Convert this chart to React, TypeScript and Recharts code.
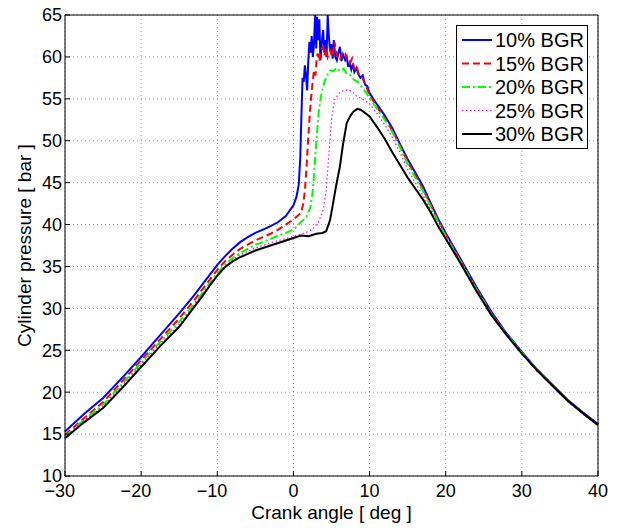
import React from "react";
import { LineChart, Line, XAxis, YAxis, CartesianGrid, Legend, Label } from "recharts";

const xTicks = [-30, -20, -10, 0, 10, 20, 30, 40];
const yTicks = [10, 15, 20, 25, 30, 35, 40, 45, 50, 55, 60, 65];

// [crank angle (deg), pressure (bar)]
const bgr10: [number, number][] = [
  [-30, 15.3], [-27.5, 17.4], [-25, 19.3], [-22.5, 21.7], [-20, 24.2], [-17.5, 26.8],
  [-15, 29.4], [-13, 31.6], [-12, 32.8], [-11, 34.0], [-10, 35.2], [-9, 36.2], [-8, 37.1],
  [-7, 37.9], [-6, 38.5], [-5, 39.0], [-4, 39.4], [-3, 39.8], [-2, 40.3], [-1, 41.0],
  [0, 42.3], [0.4, 43.3], [0.7, 44.8], [0.9, 48], [1.05, 53], [1.2, 57.5],
  [1.35, 57.0], [1.5, 59.0], [1.65, 57.8], [1.8, 56.0], [1.95, 59.5], [2.1, 61.8],
  [2.25, 60.5], [2.4, 62.5], [2.55, 60.0], [2.7, 61.5], [2.85, 65], [3.0, 61.0],
  [3.1, 64.8], [3.25, 62.0], [3.4, 64.5], [3.55, 59.6], [3.7, 61.5], [3.9, 63.2],
  [4.05, 60.5], [4.2, 62.0], [4.35, 60.0], [4.5, 65], [4.65, 62.5], [4.8, 60.8],
  [5.0, 61.5], [5.15, 59.8], [5.3, 62.0], [5.5, 60.0], [5.7, 59.6], [5.9, 60.5],
  [6.1, 61.2], [6.3, 59.5], [6.5, 60.3], [6.8, 59.6], [7.0, 60.0], [7.2, 58.8],
  [7.4, 59.3], [7.6, 58.5], [7.8, 59.1], [8.0, 58.2], [8.3, 58.7], [8.5, 58.0],
  [8.8, 57.5], [9.1, 57.8], [9.4, 56.7], [9.7, 56.5], [10, 55.7], [11, 54.3],
  [12, 53.0], [13, 51.5], [14, 49.6], [15, 47.8], [16, 46.2], [17, 44.6], [18, 42.6],
  [19, 40.7], [20, 39.0], [22, 35.8], [24, 32.6], [26, 29.6], [28, 27.0], [30, 24.8],
  [32, 22.7], [34, 20.9], [36, 19.1], [38, 17.6], [40, 16.2],
];

const bgr15: [number, number][] = [
  [-30, 14.9], [-27.5, 16.9], [-25, 18.8], [-22.5, 21.3], [-20, 23.8], [-17.5, 26.3],
  [-15, 28.8], [-13, 31.0], [-12, 32.2], [-11, 33.4], [-10, 34.6], [-9, 35.6], [-8, 36.4],
  [-7, 37.1], [-6, 37.6], [-5, 38.1], [-4, 38.5], [-3, 38.9], [-2, 39.4], [-1, 40.0],
  [0, 40.6], [0.5, 41.0], [1.0, 41.4], [1.3, 42.5], [1.5, 44.0], [1.7, 46.5],
  [1.9, 49.7], [2.1, 52.5], [2.3, 54.9], [2.5, 56.8], [2.7, 58.4], [2.9, 57.8],
  [3.05, 59.8], [3.2, 60.4], [3.4, 59.5], [3.6, 60.8], [3.9, 61.2], [4.1, 60.2],
  [4.3, 61.0], [4.5, 60.0], [4.8, 60.8], [5.1, 60.0], [5.4, 61.8], [5.7, 60.2],
  [6.1, 59.6], [6.4, 60.6], [6.8, 60.4], [7.1, 59.4], [7.4, 59.2], [7.7, 59.8],
  [8.0, 58.6], [8.3, 58.9], [8.6, 57.9], [9.0, 57.6], [9.3, 57.0], [9.6, 56.4],
  [10, 55.4], [11, 54.0], [12, 52.7], [13, 51.2], [14, 49.4], [15, 47.5], [16, 45.9],
  [17, 44.3], [18, 42.4], [19, 40.5], [20, 38.8], [22, 35.6], [24, 32.4], [26, 29.4],
  [28, 26.9], [30, 24.7], [32, 22.6], [34, 20.8], [36, 19.0], [38, 17.5], [40, 16.1],
];

const bgr20: [number, number][] = [
  [-30, 14.7], [-27.5, 16.7], [-25, 18.5], [-22.5, 21.0], [-20, 23.5], [-17.5, 26.0],
  [-15, 28.4], [-13, 30.6], [-12, 31.8], [-11, 33.0], [-10, 34.2], [-9, 35.2], [-8, 36.0],
  [-7, 36.6], [-6, 37.1], [-5, 37.6], [-4, 37.9], [-3, 38.3], [-2, 38.7], [-1, 39.0],
  [0, 39.4], [1, 40.3], [1.7, 40.9], [2.2, 42.0], [2.5, 43.7], [2.7, 45.8],
  [2.9, 48.5], [3.1, 51.0], [3.3, 53.3], [3.6, 55.2], [3.9, 56.5], [4.3, 57.6],
  [4.8, 58.4], [5.2, 58.3], [5.7, 58.7], [6.1, 58.3], [6.6, 58.6], [7.0, 58.0],
  [7.5, 57.8], [7.9, 57.3], [8.5, 57.0], [9.0, 56.4], [9.5, 55.8], [10, 55.1],
  [11, 53.8], [12, 52.5], [13, 51.0], [14, 49.2], [15, 47.2], [16, 45.6], [17, 44.0],
  [18, 42.2], [19, 40.3], [20, 38.6], [22, 35.5], [24, 32.3], [26, 29.3], [28, 26.9],
  [30, 24.7], [32, 22.6], [34, 20.8], [36, 19.0], [38, 17.5], [40, 16.1],
];

const bgr25: [number, number][] = [
  [-30, 14.6], [-27.5, 16.6], [-25, 18.3], [-22.5, 20.8], [-20, 23.3], [-17.5, 25.8],
  [-15, 28.1], [-13, 30.4], [-12, 31.6], [-11, 32.8], [-10, 34.0], [-9, 35.0], [-8, 35.8],
  [-7, 36.4], [-6, 36.8], [-5, 37.2], [-4, 37.5], [-3, 37.8], [-2, 38.1], [-1, 38.3],
  [0, 38.6], [1.5, 39.0], [2.5, 39.4], [3.3, 40.3], [3.9, 41.7], [4.3, 44.0],
  [4.6, 47.7], [5.0, 52.5], [5.4, 54.9], [6.1, 55.8], [6.6, 56.0], [7.2, 56.1],
  [7.8, 55.8], [8.3, 55.3], [9.0, 55.0], [10, 54.4], [11, 53.2], [12, 51.9], [13, 50.4],
  [14, 48.6], [15, 46.6], [16, 45.0], [17, 43.5], [18, 41.8], [19, 39.9], [20, 38.3],
  [22, 35.3], [24, 32.2], [26, 29.2], [28, 26.8], [30, 24.6], [32, 22.5], [34, 20.7],
  [36, 18.9], [38, 17.4], [40, 16.0],
];

const bgr30: [number, number][] = [
  [-30, 14.5], [-27.5, 16.4], [-25, 18.1], [-22.5, 20.5], [-20, 23.0], [-17.5, 25.5],
  [-15, 27.8], [-13, 30.2], [-12, 31.4], [-11, 32.7], [-10, 33.9], [-9, 34.9], [-8, 35.6],
  [-7, 36.1], [-6, 36.5], [-5, 36.9], [-4, 37.2], [-3, 37.5], [-2, 37.8], [-1, 38.1],
  [0, 38.4], [1, 38.7], [2, 38.6], [3, 38.9], [3.8, 39.0], [4.3, 39.2], [4.8, 40.5],
  [5.2, 42.5], [5.6, 44.6], [6.1, 46.9], [6.5, 49.5], [7.0, 52.1], [7.5, 53.0],
  [7.9, 53.5], [8.4, 53.8], [8.8, 53.7], [9.3, 53.4], [10, 52.9], [11, 51.6], [12, 50.2],
  [13, 48.6], [14, 47.1], [15, 45.6], [16, 44.3], [17, 43.0], [18, 41.5], [19, 39.8],
  [20, 38.3], [22, 35.3], [24, 32.1], [26, 29.2], [28, 26.8], [30, 24.6], [32, 22.6],
  [34, 20.8], [36, 19.0], [38, 17.5], [40, 16.1],
];

const seriesList = [
  { name: "10% BGR", points: bgr10, color: "#0000ff", dash: undefined, width: 2 },
  { name: "15% BGR", points: bgr15, color: "#ff0000", dash: "7 4", width: 2 },
  { name: "20% BGR", points: bgr20, color: "#00ff00", dash: "8 3 2 3", width: 2 },
  { name: "25% BGR", points: bgr25, color: "#ff00ff", dash: "1.5 2.5", width: 1.2 },
  { name: "30% BGR", points: bgr30, color: "#000000", dash: undefined, width: 2 },
];

const font = "'Liberation Sans', Arial, Helvetica, sans-serif";
const tickFont = 18;

const toRows = (pts: [number, number][]) => pts.map(([angle, pressure]) => ({ angle, pressure }));

// matlab-style: digits centred on the tick, minus sign hanging to the left
const XTick = (props: any) => {
  const { x, y, payload } = props;
  const v = payload.value;
  const digits = String(Math.abs(v));
  const half = (digits.length * 0.556 * tickFont) / 2;
  return (
    <g>
      <text x={x} y={y} dy="0.71em" textAnchor="middle" fontSize={tickFont} fontFamily={font} fill="#000">
        {digits}
      </text>
      {v < 0 && (
        <text x={x - half} y={y} dy="0.71em" textAnchor="end" fontSize={tickFont} fontFamily={font} fill="#000">
          {"\u2212"}
        </text>
      )}
    </g>
  );
};

const LegendBox = () => (
  <svg width={132} height={124} style={{ display: "block" }}>
    <rect x={0.5} y={0.5} width={131} height={123} fill="#fff" stroke="#000" />
    {seriesList.map((s, i) => {
      const cy = 15 + i * 23.5;
      return (
        <g key={s.name}>
          <line x1={6} x2={36} y1={cy} y2={cy} stroke={s.color} strokeWidth={s.width} strokeDasharray={s.dash} />
          <text x={39} y={cy} dy="0.36em" fontSize={20} fontFamily={font} fill="#000">
            {s.name}
          </text>
        </g>
      );
    })}
  </svg>
);

export default function App() {
  return (
    <div style={{ position: "absolute", left: 0, top: 0, width: 620, height: 528, background: "#fff" }}>
      <LineChart width={620} height={528} margin={{ top: 5, right: 12, bottom: 12, left: 15 }}>
        <CartesianGrid stroke="#999" strokeDasharray="1 3" />
        <XAxis
          dataKey="angle"
          type="number"
          domain={[-30, 40]}
          ticks={xTicks}
          height={40}
          tickSize={-5}
          tickMargin={13}
          tick={<XTick />}
          stroke="#000"
          tickLine={{ stroke: "#000" }}
        >
          <Label
            value="Crank angle [ deg ]"
            position="insideBottom"
            offset={-3}
            style={{ fontSize: 19, fontFamily: font, fill: "#000" }}
          />
        </XAxis>
        <XAxis
          xAxisId="top"
          orientation="top"
          type="number"
          domain={[-30, 40]}
          ticks={xTicks}
          height={10}
          tickSize={-5}
          tick={false}
          stroke="#000"
          tickLine={{ stroke: "#000" }}
        />
        <YAxis
          type="number"
          domain={[10, 65]}
          ticks={yTicks}
          width={50}
          tickSize={-5}
          tickMargin={8}
          stroke="#000"
          tickLine={{ stroke: "#000" }}
          tick={{ fontSize: tickFont, fontFamily: font, fill: "#000" }}
        >
          <Label
            value="Cylinder pressure [ bar ]"
            angle={-90}
            position="insideLeft"
            offset={9}
            style={{ fontSize: 19, fontFamily: font, fill: "#000", textAnchor: "middle" }}
          />
        </YAxis>
        <YAxis
          yAxisId="right"
          orientation="right"
          type="number"
          domain={[10, 65]}
          ticks={yTicks}
          width={10}
          tickSize={-5}
          tick={false}
          stroke="#000"
          tickLine={{ stroke: "#000" }}
        />
        {seriesList.map((s) => (
          <Line
            key={s.name}
            data={toRows(s.points)}
            dataKey="pressure"
            name={s.name}
            type="linear"
            stroke={s.color}
            strokeWidth={s.width}
            strokeDasharray={s.dash}
            dot={false}
            activeDot={false}
            isAnimationActive={false}
          />
        ))}
        <Legend
          layout="vertical"
          align="center"
          verticalAlign="middle"
          content={() => <LegendBox />}
          wrapperStyle={{ left: 456, top: 25, width: 132, height: 124 }}
        />
      </LineChart>
    </div>
  );
}
